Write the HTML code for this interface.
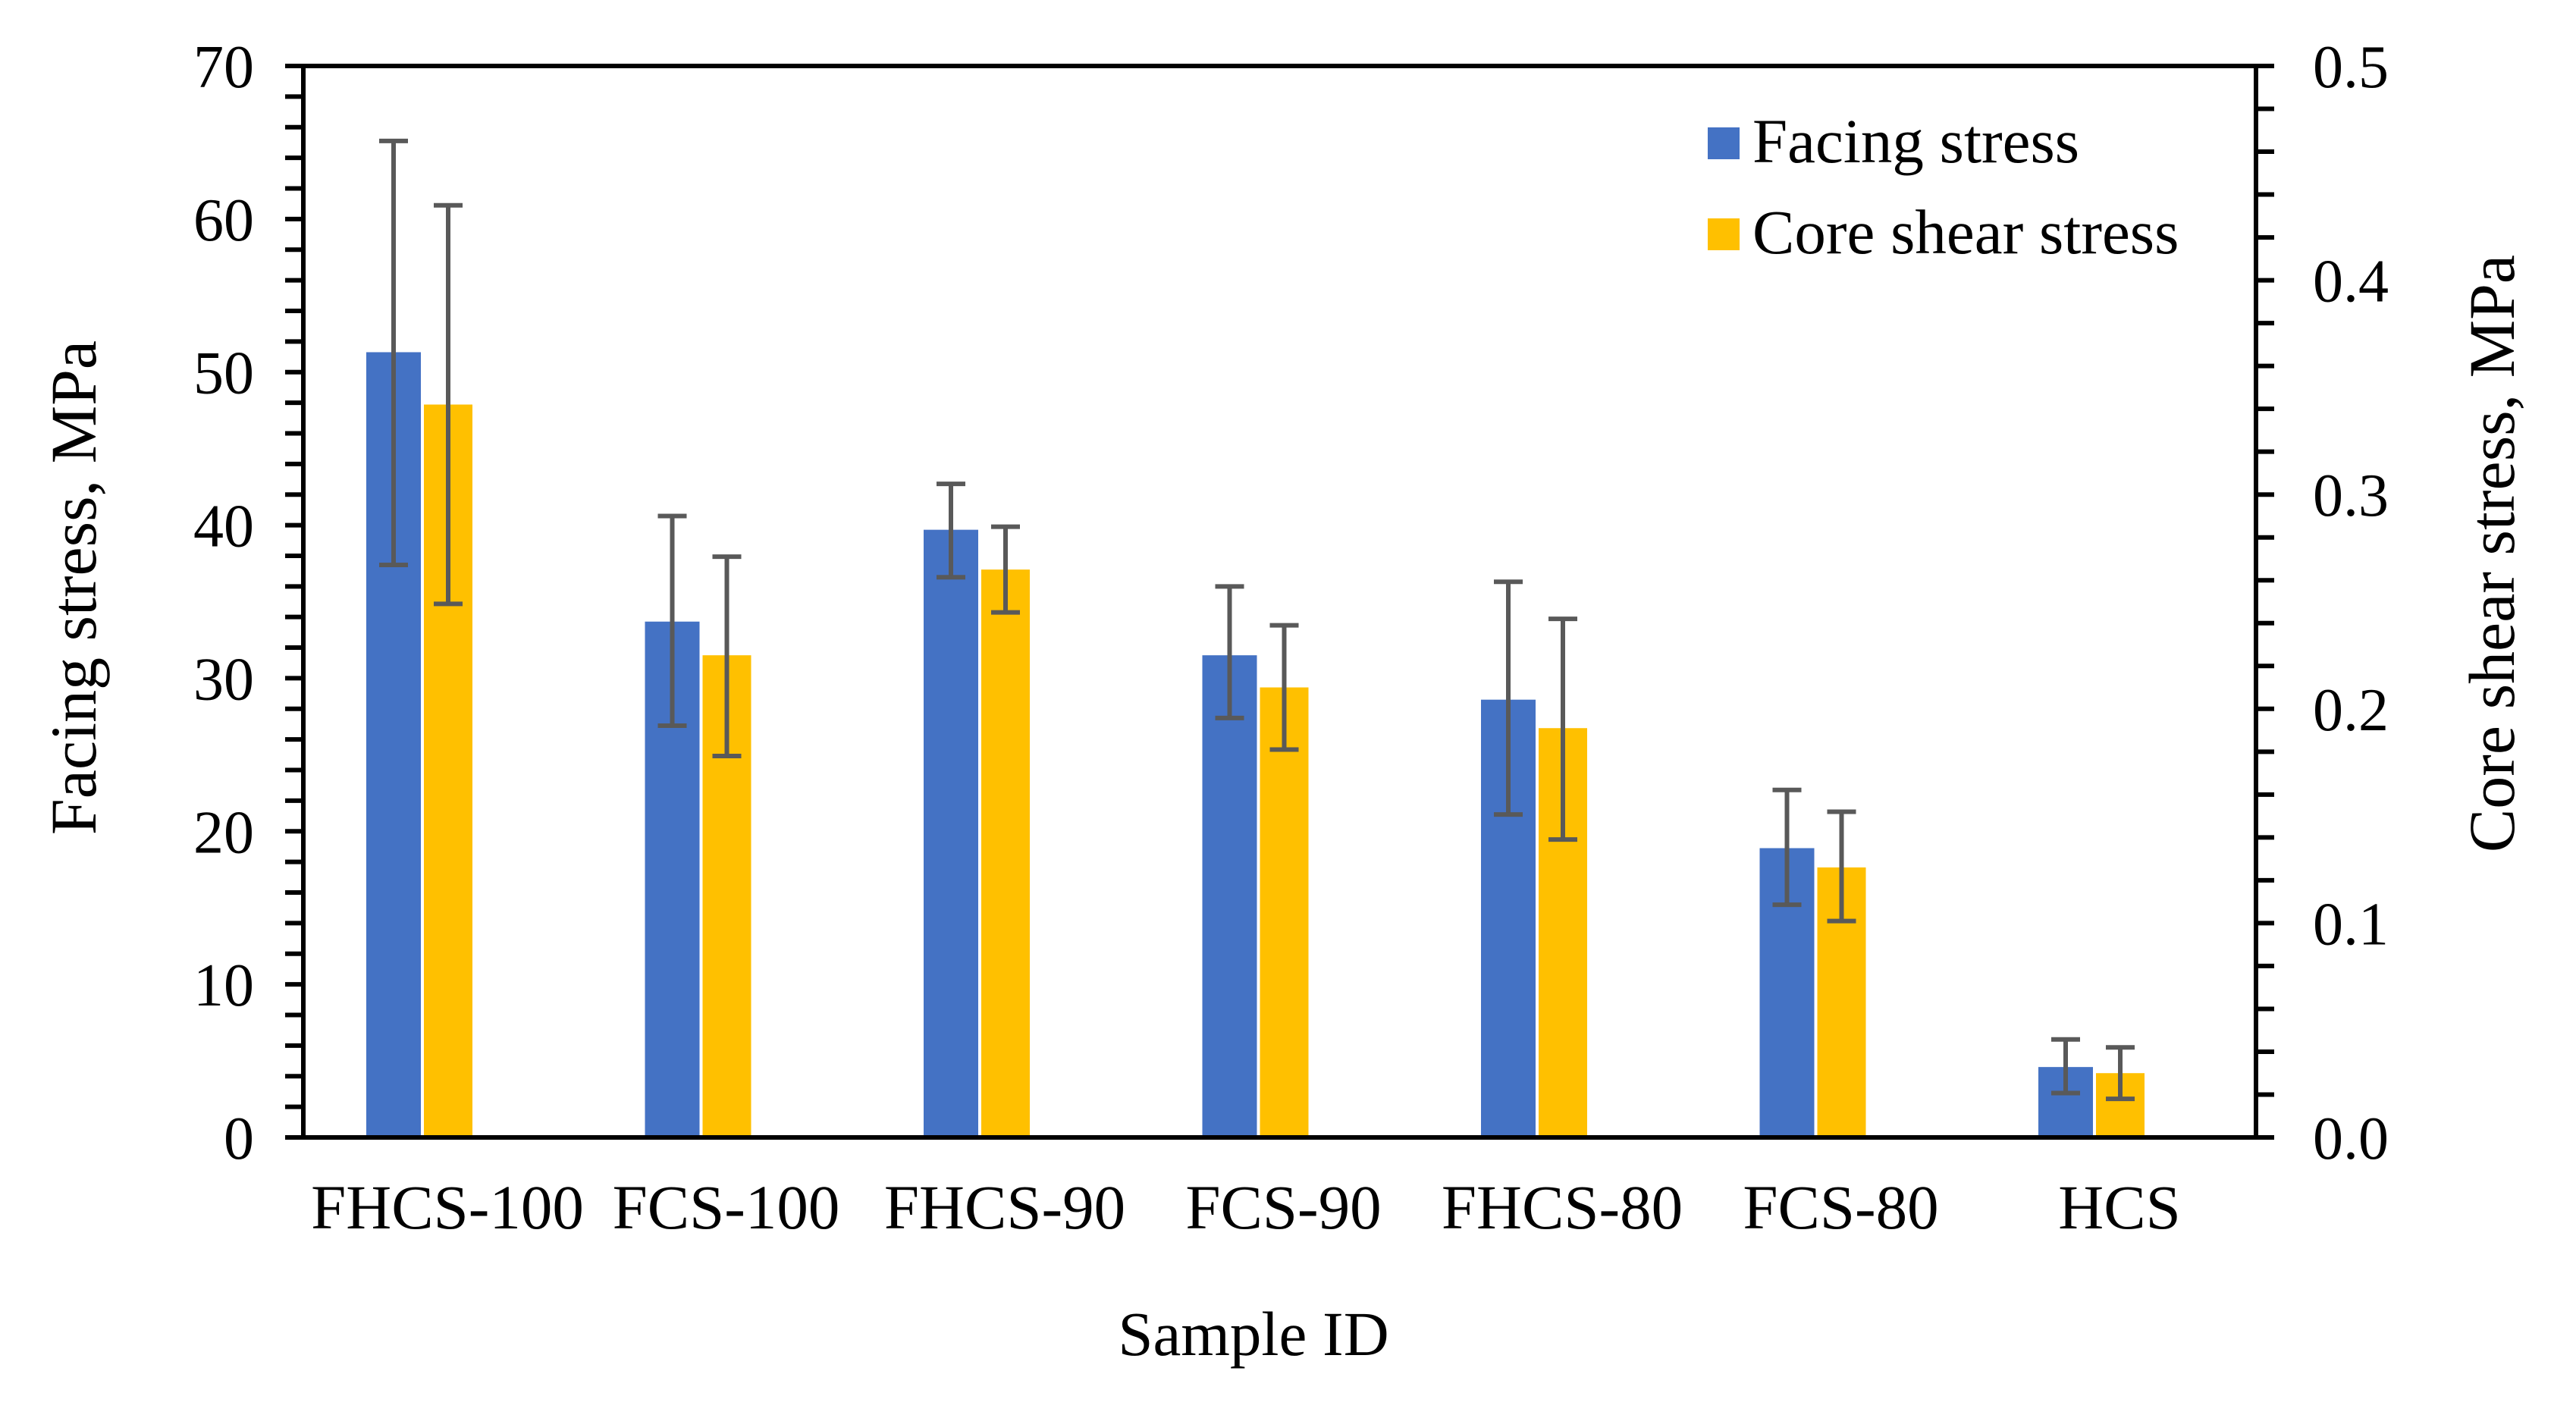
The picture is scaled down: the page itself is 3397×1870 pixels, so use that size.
<!DOCTYPE html>
<html><head><meta charset="utf-8"><style>
html,body{margin:0;padding:0;background:#fff;position:relative;}
svg{display:block;font-family:"Liberation Serif",serif;}
</style></head><body>
<svg id="chart" width="3397" height="1870" viewBox="0 0 3397 1870" xmlns="http://www.w3.org/2000/svg"></svg>
<script>
const categories = ["FHCS-100","FCS-100","FHCS-90","FCS-90","FHCS-80","FCS-80","HCS"];
const facing = [51.3, 33.7, 39.7, 31.5, 28.6, 18.9, 4.6];
const facingLow = [37.4, 26.9, 36.6, 27.4, 21.1, 15.2, 2.9];
const facingHigh = [65.1, 40.6, 42.7, 36.0, 36.3, 22.7, 6.4];
const core = [0.342, 0.225, 0.265, 0.210, 0.191, 0.126, 0.030];
const coreLow = [0.249, 0.178, 0.245, 0.181, 0.139, 0.101, 0.018];
const coreHigh = [0.435, 0.271, 0.285, 0.239, 0.242, 0.152, 0.042];
const leftTicks = [0,10,20,30,40,50,60,70];
const rightTicks = ["0.0","0.1","0.2","0.3","0.4","0.5"];

const NS="http://www.w3.org/2000/svg";
const svg=document.getElementById('chart');
const L=400,R=2975,T=87,B=1500;
const yL=v=>B-(v/70)*(B-T);
const yR=v=>B-(v/0.5)*(B-T);
const xc=i=>557+367.5*i;
function mk(tag,attrs,parent){const e=document.createElementNS(NS,tag);for(const k in attrs)e.setAttribute(k,attrs[k]);(parent||svg).appendChild(e);return e;}

const bw=72;
for(let i=0;i<categories.length;i++){
  const c=xc(i);
  const b1=mk('rect',{x:c-bw-2,y:yL(facing[i]),width:bw,height:B-yL(facing[i]),fill:'#4472C4'});
  
  
  const b2=mk('rect',{x:c+2,y:yR(core[i]),width:bw-8,height:B-yR(core[i]),fill:'#FFC000'});
  
  
  const errs=[[c-bw/2-2,yL(facingLow[i]),yL(facingHigh[i])],[c+2+(bw-8)/2,yR(coreLow[i]),yR(coreHigh[i])]];
  errs.forEach((e,k)=>{
    const g=mk('g',{stroke:'#595959','stroke-width':6});
    
    
    mk('line',{x1:e[0],x2:e[0],y1:e[1],y2:e[2]},g);
    mk('line',{x1:e[0]-19,x2:e[0]+19,y1:e[1],y2:e[1]},g);
    mk('line',{x1:e[0]-19,x2:e[0]+19,y1:e[2],y2:e[2]},g);
  });
  const t=mk('text',{x:c+33,y:1620,'font-size':83,'text-anchor':'middle',fill:'#000'});
  t.textContent=categories[i];
  
  
}
const ax=mk('g',{stroke:'#000','stroke-width':6,fill:'none'});


mk('line',{x1:L,x2:L,y1:T-3,y2:B+3},ax);
mk('line',{x1:R,x2:R,y1:T-3,y2:B+3},ax);
mk('line',{x1:L-24,x2:R+24,y1:T,y2:T},ax);
mk('line',{x1:L-24,x2:R+24,y1:B,y2:B},ax);
for(let v=0;v<=70;v+=2){mk('line',{x1:L-24,x2:L,y1:yL(v),y2:yL(v)},ax);}
for(let v=0;v<=50;v+=2){mk('line',{x1:R,x2:R+24,y1:yR(v/100),y2:yR(v/100)},ax);}
leftTicks.forEach(v=>{
  const t=mk('text',{x:335,y:yL(v)+28,'font-size':80,'text-anchor':'end'});
  t.textContent=v;
  
  
});
rightTicks.forEach(s=>{
  const t=mk('text',{x:3050,y:yR(parseFloat(s))+28,'font-size':80,'text-anchor':'start'});
  t.textContent=s;
  
  
});
</script>
<svg style="position:absolute;left:0;top:0" width="3397" height="1870" viewBox="0 0 3397 1870" font-family="Liberation Serif, serif">
<text x="1653" y="1787" font-size="83" text-anchor="middle">Sample ID</text>
<text transform="translate(126,775) rotate(-90)" font-size="86" text-anchor="middle">Facing stress, MPa</text>
<text transform="translate(3315,730) rotate(-90)" font-size="86" text-anchor="middle">Core shear stress, MPa</text>
<g>
<rect x="2252" y="168" width="42" height="42" fill="#4472C4"/>
<text x="2311" y="214" font-size="83">Facing stress</text>
<rect x="2252" y="288" width="42" height="42" fill="#FFC000"/>
<text x="2311" y="334" font-size="83">Core shear stress</text>
</g>
</svg>
</body></html>
